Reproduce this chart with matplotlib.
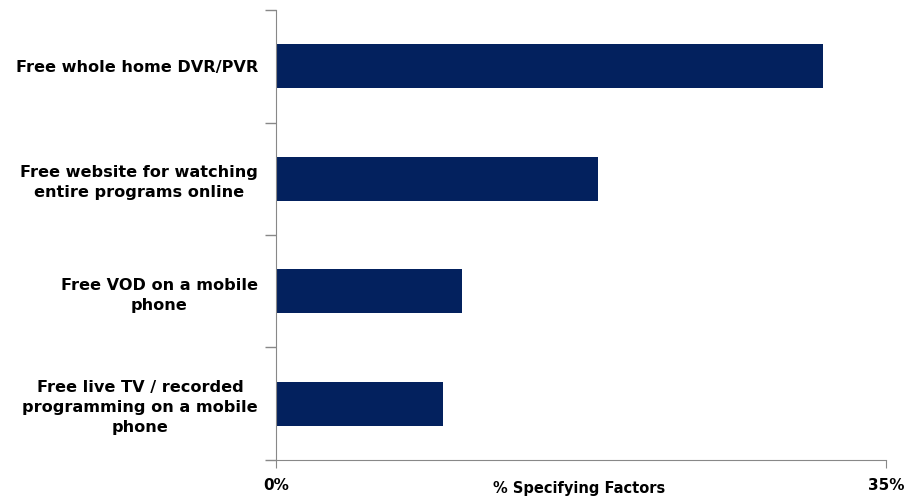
import matplotlib
matplotlib.use("Agg")
from matplotlib import pyplot as plt
from matplotlib.ticker import FixedLocator

categories = [
    "Free whole home DVR/PVR",
    "Free website for watching\nentire programs online",
    "Free VOD on a mobile\nphone",
    "Free live TV / recorded\nprogramming on a mobile\nphone",
]
values = [31.4, 18.5, 10.7, 9.6]
x_ticks = [0, 35]
x_tick_labels = ["0%", "35%"]

plt.rcParams['font.family'] = ['DejaVu Sans']

fig = plt.figure(figsize=(9.06, 4.96), dpi=100)
ax = fig.add_axes([0.3046, 0.0726, 0.6734, 0.9072])

pos = list(range(len(categories)))
ax.barh(pos, values, height=0.39, color='#03215E')
ax.set_ylim(len(categories) - 0.5, -0.5)
ax.set_xlim(0, 35)

# category labels, no tick marks at the centres
ax.set_yticks(pos)
ax.set_yticklabels(categories, fontsize=11.6, fontweight='bold',
                   multialignment='center', linespacing=1.4)
ax.tick_params(axis='y', which='major', length=0, pad=13)
# boundary ticks
ax.yaxis.set_minor_locator(FixedLocator([p - 0.5 for p in pos] + [len(categories) - 0.5]))
ax.tick_params(axis='y', which='minor', length=8, color='#888888', width=1)

ax.set_xticks(x_ticks)
ax.set_xticklabels(x_tick_labels, fontsize=11, fontweight='bold')
ax.tick_params(axis='x', length=6, color='#888888', pad=7)

for s in ['top', 'right']:
    ax.spines[s].set_visible(False)
for s in ['left', 'bottom']:
    ax.spines[s].set_color('#888888')

fig.text(579 / 906, 1 - 488 / 496, "% Specifying Factors", ha='center', va='center',
         fontsize=10.5, fontweight='bold')

fig.savefig("out.png", dpi=100)
